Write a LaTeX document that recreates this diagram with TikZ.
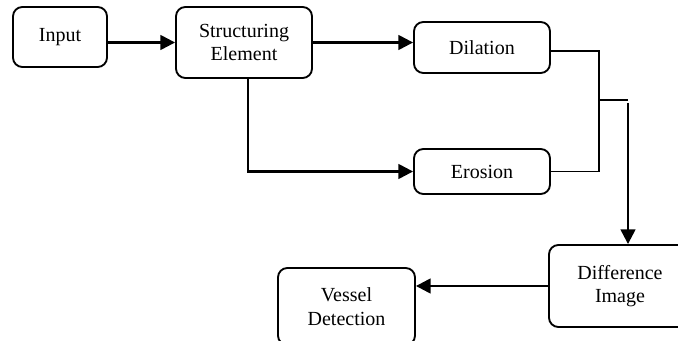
\documentclass[tikz,border=0pt]{standalone}
\usepackage{fontspec}
\setmainfont{Liberation Serif}
\usetikzlibrary{arrows.meta, positioning, calc}
\tikzstyle{block} = [rectangle, rounded corners=7pt, text centered, align=center, draw=black, line width=1.4pt, font=\fontsize{15}{17.5}\selectfont]
\tikzstyle{arrow} = [line width=1.8pt, -{Triangle[length=11pt, width=11pt]}]
\tikzstyle{joint} = [line width=1.3pt]

\begin{document}
\begin{tikzpicture}[x=0.75pt, y=-0.75pt]
\useasboundingbox (0,0) rectangle (678,341);
\clip (0,0) rectangle (678,341);
\node [block, minimum width=70.5pt, minimum height=45pt] (input) at (60,37) {Input};
\node [block, minimum width=102pt, minimum height=53.25pt] (struct) at (244,42.5) {Structuring\\Element};
\node [block, minimum width=102pt, minimum height=38.25pt] (dilation) at (482,47.5) {Dilation};
\node [block, minimum width=102pt, minimum height=33.75pt] (erosion) at (482,171.5) {Erosion};
\node [block, minimum width=106.5pt, minimum height=61.5pt] (diff) at (620,286) {Difference\\Image};
\node [block, minimum width=102.75pt, minimum height=57.75pt] (vessel) at (346.5,306.5) {Vessel\\Detection};
\coordinate (merge) at (599,100);
\coordinate (mergeend) at (628,100);
\coordinate (split) at (628,103);

\draw [arrow] (struct.west -| input.east) -- (struct.west);
\draw [arrow] (struct.east) -- (struct.east -| dilation.west);
\draw [arrow] ([xshift=3pt]struct.south) |- (erosion.west);
\draw [joint] ([yshift=-2.5pt]dilation.east) -| (merge);
\draw [joint] (erosion.east) -| (merge);
\draw [joint] (merge) -- (mergeend);
\draw [arrow] (split) -- (split |- diff.north);
\draw [arrow] (diff.west) -- (diff.west -| vessel.east);
\end{tikzpicture}
\end{document}
